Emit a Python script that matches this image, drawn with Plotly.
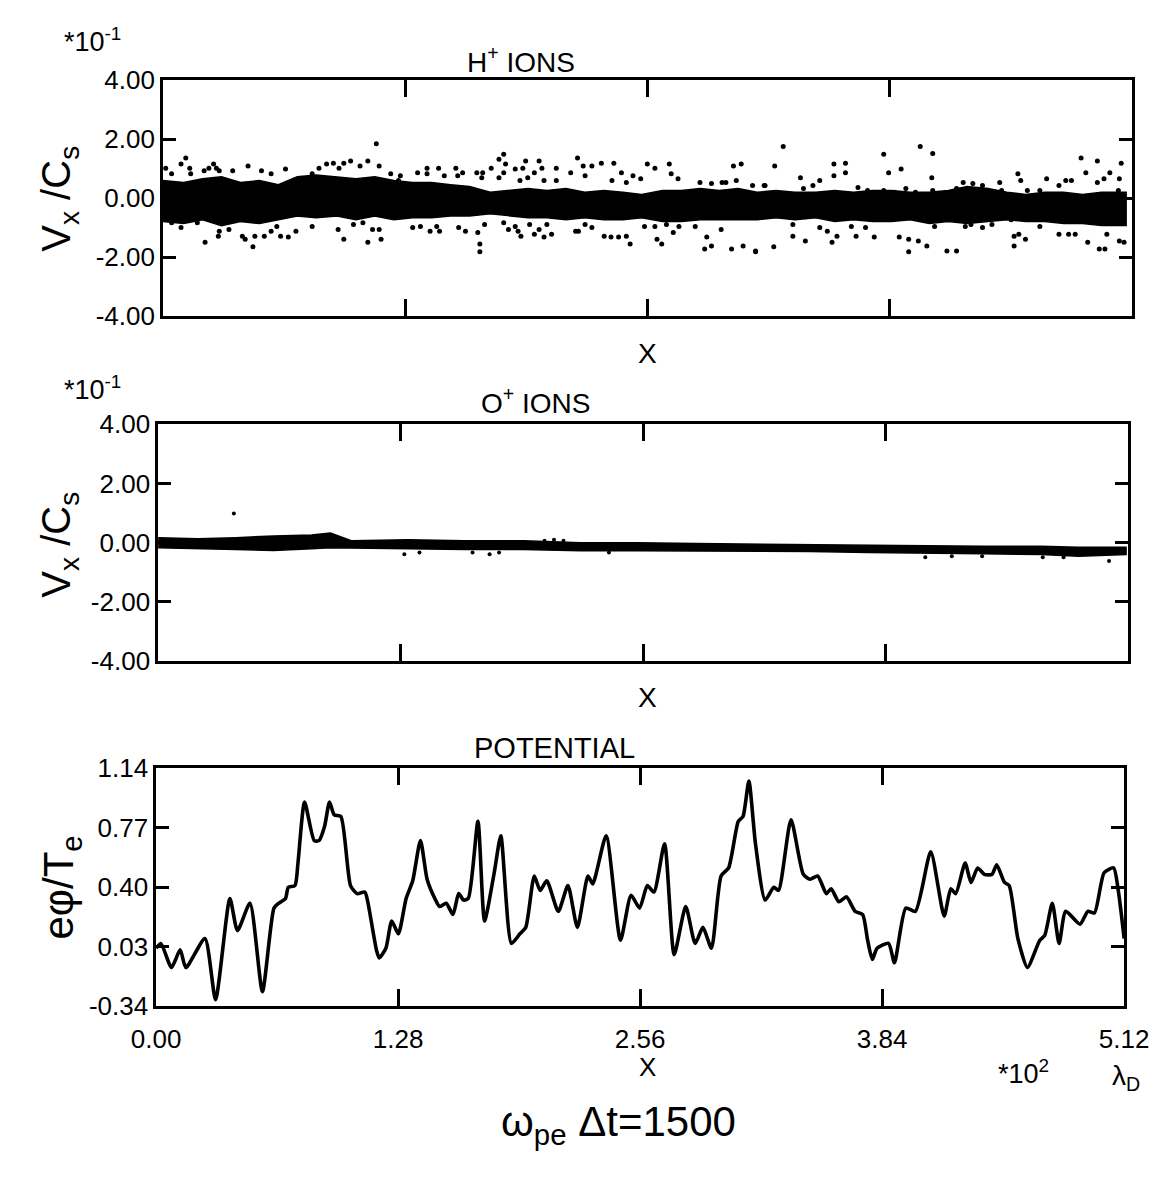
import plotly.graph_objects as go

W, H = 1175, 1178

# ---------------- data ----------------
x_tick_vals = [0.00, 1.28, 2.56, 3.84, 5.12]
x_tick_text = ["0.00", "1.28", "2.56", "3.84", "5.12"]
v_tick_vals = [-4, -2, 0, 2, 4]
v_tick_text = ["-4.00", "-2.00", "0.00", "2.00", "4.00"]
pot_tick_vals = [-0.34, 0.03, 0.40, 0.77, 1.14]
pot_tick_text = ["-0.34", "0.03", "0.40", "0.77", "1.14"]

# H+ ions: dense core band (upper / lower edge) in units of 1e-1
h_band_x = [0.00, 0.11, 0.21, 0.31, 0.41, 0.51, 0.61, 0.71, 0.81, 0.92, 1.02, 1.12, 1.22, 1.32, 1.42, 1.52, 1.62,
            1.73, 1.83, 1.93, 2.03, 2.13, 2.23, 2.33, 2.43, 2.53, 2.64, 2.74, 2.84, 2.94, 3.04, 3.14, 3.24, 3.34,
            3.45, 3.55, 3.65, 3.75, 3.85, 3.95, 4.05, 4.15, 4.25, 4.36, 4.46, 4.56, 4.66, 4.76, 4.86, 4.96, 5.09]
h_band_upper = [0.60, 0.53, 0.66, 0.73, 0.53, 0.60, 0.46, 0.73, 0.79, 0.73, 0.66, 0.73, 0.60, 0.53, 0.53, 0.46, 0.40,
                0.20, 0.26, 0.33, 0.26, 0.33, 0.20, 0.26, 0.20, 0.13, 0.26, 0.26, 0.33, 0.26, 0.33, 0.20, 0.26, 0.20,
                0.20, 0.26, 0.20, 0.26, 0.26, 0.20, 0.20, 0.26, 0.40, 0.33, 0.20, 0.13, 0.20, 0.20, 0.13, 0.20, 0.20]
h_band_lower = [-0.79, -0.86, -0.73, -0.93, -0.79, -0.86, -0.73, -0.60, -0.66, -0.60, -0.73, -0.60, -0.73, -0.66,
                -0.66, -0.60, -0.60, -0.53, -0.60, -0.66, -0.66, -0.73, -0.66, -0.73, -0.73, -0.66, -0.79, -0.79,
                -0.73, -0.73, -0.73, -0.73, -0.66, -0.73, -0.66, -0.79, -0.73, -0.79, -0.79, -0.73, -0.86, -0.79,
                -0.86, -0.79, -0.73, -0.79, -0.79, -0.86, -0.86, -0.93, -0.93]

# H+ ions: scattered particles outside the core
h_outliers = [
    (0.015, 1.02), (0.046, 0.83), (0.096, 1.16), (0.121, 1.36), (0.142, 1.02), (0.147, 0.83), (0.218, 0.93),
    (0.243, 1.02), (0.268, 1.16), (0.283, 1.02), (0.298, 0.93), (0.369, 0.93), (0.450, 1.09), (0.521, 0.93),
    (0.572, 0.83), (0.648, 0.99), (0.789, 0.83), (0.825, 1.02), (0.865, 1.16), (0.901, 1.19), (0.931, 1.02),
    (0.956, 1.19), (0.992, 1.26), (1.042, 1.09), (1.083, 1.26), (1.128, 1.85), (1.143, 1.09), (1.204, 0.83),
    (1.245, 0.60),
    (0.046, -0.83), (0.096, -0.99), (0.182, -0.83), (0.223, -1.49), (0.293, -1.29), (0.298, -1.12),
    (0.349, -1.06), (0.420, -1.29), (0.435, -1.39), (0.476, -1.65), (0.486, -1.29), (0.536, -1.29),
    (0.572, -1.12), (0.602, -0.96), (0.622, -1.29), (0.663, -1.32), (0.703, -1.12), (0.789, -0.96),
    (0.926, -1.06), (0.956, -1.39), (1.007, -0.89), (1.057, -0.83), (1.083, -1.49), (1.108, -1.06),
    (1.143, -1.06), (1.153, -1.39),
    (1.255, 0.76), (1.346, 0.86), (1.396, 1.02), (1.396, 0.83), (1.457, 1.02), (1.487, 0.76), (1.548, 1.02),
    (1.558, 0.76), (1.584, 0.86), (1.659, 0.86), (1.690, 0.86), (1.685, 0.69), (1.735, 1.02), (1.776, 1.32),
    (1.801, 1.49), (1.776, 0.69), (1.811, 1.16), (1.801, 0.86), (1.862, 0.99), (1.887, 0.60), (1.902, 1.02),
    (1.917, 1.26), (1.928, 0.69), (1.963, 0.86), (1.988, 1.26), (2.003, 1.02), (2.014, 0.60), (2.079, 1.02),
    (2.079, 0.60), (2.155, 0.86), (2.191, 1.36), (2.221, 1.09), (2.231, 0.76), (2.267, 1.09), (2.317, 1.19),
    (2.383, 1.19), (2.373, 0.60), (2.423, 0.86), (2.449, 0.53), (2.484, 0.76), (2.525, 0.66), (2.560, 1.16),
    (2.600, 1.02), (2.676, 1.16), (2.686, 0.83), (2.722, 0.66), (2.838, 0.53), (2.899, 0.50), (2.955, 0.53),
    (2.975, 0.53), (3.015, 1.09), (3.056, 1.16), (3.030, 0.60), (3.116, 0.43), (3.177, 0.43),
    (1.260, -0.63), (1.320, -0.99), (1.361, -0.96), (1.412, -1.12), (1.447, -0.96), (1.462, -1.12),
    (1.563, -0.99), (1.599, -1.12), (1.664, -1.16), (1.675, -1.55), (1.675, -1.82), (1.700, -0.89),
    (1.801, -0.83), (1.826, -1.06), (1.862, -0.96), (1.877, -1.12), (1.892, -1.29), (1.938, -0.89),
    (1.963, -1.22), (1.988, -1.06), (2.014, -1.32), (2.029, -0.89), (2.054, -1.22), (2.181, -1.12),
    (2.196, -1.12), (2.231, -0.89), (2.267, -0.99), (2.332, -1.29), (2.368, -1.32), (2.408, -1.32),
    (2.449, -1.29), (2.469, -1.55), (2.545, -0.96), (2.600, -0.96), (2.611, -1.39), (2.636, -1.55),
    (2.661, -0.89), (2.697, -1.16), (2.727, -0.96), (2.813, -0.96), (2.874, -1.32), (2.863, -1.72),
    (2.899, -1.62), (2.950, -1.06), (3.005, -1.72), (3.066, -1.62), (3.132, -1.82),
    (3.182, 0.43), (3.233, 1.09), (3.278, 1.75), (3.369, 0.69), (3.385, 0.33), (3.435, 0.43), (3.471, 0.60),
    (3.546, 1.16), (3.546, 0.76), (3.607, 1.19), (3.607, 0.86), (3.673, 0.36), (3.724, 0.26), (3.809, 1.49),
    (3.835, 0.86), (3.809, 0.26), (3.865, 0.20), (3.901, 0.99), (3.926, 0.33), (3.977, 0.20), (4.002, 1.75),
    (4.063, 0.69), (4.068, 1.52), (4.068, 0.26), (4.194, 0.33), (4.229, 0.53), (4.280, 0.50), (4.331, 0.43),
    (4.422, 0.53), (4.432, 0.26), (4.518, 0.83), (4.533, 0.60), (4.568, 0.26), (4.634, 0.26), (4.670, 0.66),
    (4.735, 0.43), (4.771, 0.60), (4.801, 0.60), (4.852, 1.36), (4.877, 0.86), (4.938, 1.26), (4.938, 0.53),
    (4.973, 0.66), (5.004, 0.86), (5.054, 0.66), (5.064, 1.19), (5.049, 0.26),
    (3.132, -1.79), (3.228, -1.65), (3.329, -0.89), (3.329, -1.29), (3.395, -1.45), (3.471, -0.99),
    (3.511, -1.12), (3.536, -1.49), (3.562, -1.29), (3.638, -0.96), (3.663, -1.29), (3.713, -0.99),
    (3.759, -1.32), (3.891, -1.32), (3.941, -1.39), (3.941, -1.82), (3.992, -1.45), (4.037, -1.62),
    (4.078, -0.96), (4.143, -1.79), (4.194, -1.79), (4.240, -0.96), (4.270, -0.89), (4.331, -0.99),
    (4.381, -0.89), (4.482, -0.73), (4.498, -1.29), (4.523, -1.22), (4.498, -1.62), (4.558, -1.39),
    (4.634, -0.96), (4.735, -1.22), (4.786, -1.22), (4.821, -1.22), (4.887, -1.49), (4.948, -1.72),
    (4.978, -1.72), (4.988, -1.22), (5.054, -1.45), (5.079, -1.49),
]

# O+ ions: thin core band
o_band_x = [0.00, 0.21, 0.41, 0.61, 0.81, 0.91, 1.02, 1.32, 1.62, 1.93, 2.23, 2.53, 2.84, 3.14, 3.44, 3.75,
            4.05, 4.35, 4.66, 4.86, 5.11]
o_band_upper = [0.17, 0.13, 0.17, 0.23, 0.26, 0.33, 0.07, 0.10, 0.07, 0.07, 0.00, 0.00, -0.03, -0.05, -0.05,
                -0.09, -0.09, -0.12, -0.12, -0.15, -0.15]
o_band_lower = [-0.17, -0.20, -0.23, -0.26, -0.20, -0.17, -0.17, -0.20, -0.23, -0.23, -0.27, -0.27, -0.28,
                -0.30, -0.30, -0.33, -0.36, -0.37, -0.40, -0.46, -0.40]
o_outliers = [(0.40, 0.99), (1.30, -0.39), (1.38, -0.33), (1.66, -0.33), (1.75, -0.39), (1.80, -0.33),
              (2.04, 0.07), (2.09, 0.10), (2.14, 0.07), (2.38, -0.33), (4.05, -0.49), (4.19, -0.46),
              (4.35, -0.46), (4.67, -0.49), (4.78, -0.49), (5.02, -0.62)]

# Potential e*phi/Te
pot_x = [0.000, 0.025, 0.081, 0.127, 0.157, 0.258, 0.314, 0.390, 0.430, 0.496, 0.562, 0.623, 0.648, 0.684,
         0.699, 0.734, 0.750, 0.785, 0.836, 0.861, 0.891, 0.917, 0.942, 0.977, 1.028, 1.063, 1.104, 1.119,
         1.165, 1.180, 1.215, 1.246, 1.281, 1.322, 1.357, 1.398, 1.433, 1.474, 1.499, 1.534, 1.570, 1.600,
         1.626, 1.651, 1.702, 1.737, 1.788, 1.823, 1.879, 1.924, 1.955, 2.000, 2.031, 2.066, 2.127, 2.178,
         2.228, 2.284, 2.309, 2.380, 2.456, 2.512, 2.557, 2.598, 2.633, 2.689, 2.740, 2.801, 2.851, 2.892,
         2.937, 2.988, 3.028, 3.079, 3.104, 3.135, 3.170, 3.221, 3.267, 3.292, 3.358, 3.423, 3.459, 3.499,
         3.545, 3.570, 3.611, 3.651, 3.697, 3.737, 3.763, 3.788, 3.813, 3.874, 3.905, 3.965, 4.016, 4.097,
         4.168, 4.203, 4.229, 4.279, 4.310, 4.345, 4.381, 4.421, 4.446, 4.487, 4.512, 4.558, 4.608, 4.674,
         4.700, 4.740, 4.776, 4.811, 4.887, 4.928, 4.963, 5.014, 5.064, 5.090, 5.120]
pot_y = [0.02, 0.05, -0.10, 0.01, -0.10, 0.08, -0.30, 0.33, 0.13, 0.30, -0.25, 0.27, 0.30, 0.33,
         0.40, 0.41, 0.55, 0.93, 0.69, 0.69, 0.78, 0.93, 0.85, 0.84, 0.41, 0.36, 0.37, 0.31,
         0.01, -0.04, 0.02, 0.19, 0.11, 0.33, 0.44, 0.69, 0.45, 0.33, 0.28, 0.30, 0.23, 0.36,
         0.32, 0.33, 0.81, 0.19, 0.49, 0.72, 0.05, 0.11, 0.15, 0.47, 0.38, 0.44, 0.25, 0.41,
         0.15, 0.47, 0.42, 0.72, 0.07, 0.35, 0.27, 0.41, 0.37, 0.67, -0.02, 0.28, 0.05, 0.15,
         0.02, 0.47, 0.52, 0.81, 0.84, 1.06, 0.67, 0.32, 0.40, 0.38, 0.82, 0.48, 0.45, 0.47,
         0.36, 0.39, 0.31, 0.34, 0.25, 0.23, 0.07, -0.05, 0.02, 0.05, -0.07, 0.27, 0.25, 0.62,
         0.22, 0.39, 0.36, 0.55, 0.43, 0.52, 0.48, 0.48, 0.54, 0.43, 0.41, 0.08, -0.10, 0.07,
         0.10, 0.30, 0.05, 0.25, 0.17, 0.25, 0.24, 0.49, 0.52, 0.37, 0.08]

# ---------------- layout geometry (pixels) ----------------
panels = {
    "top": dict(x0=144, x1=1156, y0=67, y1=309),
    "mid": dict(x0=139, x1=1152, y0=420, y1=663),
    "bot": dict(x0=137, x1=1148, y0=773, y1=1017),
}


def xd(p):
    return [p["x0"] / W, p["x1"] / W]


def yd(p):
    return [1 - p["y1"] / H, 1 - p["y0"] / H]


FONT = "Liberation Sans"
fig = go.Figure()


def band_trace(bx, up, lo, xa, ya):
    return go.Scatter(x=bx + bx[::-1], y=up + lo[::-1], fill="toself", fillcolor="black",
                      mode="lines", line=dict(color="black", width=1.5), xaxis=xa, yaxis=ya,
                      hoverinfo="skip", showlegend=False)


# H+ panel
fig.add_trace(band_trace(h_band_x, h_band_upper, h_band_lower, "x", "y"))
fig.add_trace(go.Scatter(x=[p[0] for p in h_outliers], y=[p[1] for p in h_outliers], mode="markers",
                         marker=dict(color="black", size=5), xaxis="x", yaxis="y", showlegend=False))
# O+ panel
fig.add_trace(band_trace(o_band_x, o_band_upper, o_band_lower, "x2", "y2"))
fig.add_trace(go.Scatter(x=[p[0] for p in o_outliers], y=[p[1] for p in o_outliers], mode="markers",
                         marker=dict(color="black", size=4), xaxis="x2", yaxis="y2", showlegend=False))
# Potential
fig.add_trace(go.Scatter(x=pot_x, y=pot_y, mode="lines",
                         line=dict(color="black", width=3.6, shape="spline", smoothing=0.6),
                         xaxis="x3", yaxis="y3", showlegend=False))

common_axis = dict(showline=True, linecolor="black", linewidth=2.5, mirror="ticks", ticks="inside",
                   tickcolor="black", tickwidth=2.5, showgrid=False, zeroline=False,
                   tickfont=dict(family=FONT, size=26, color="black"))

layout = dict(width=W, height=H, margin=dict(l=0, r=0, t=0, b=0), paper_bgcolor="white",
              plot_bgcolor="white", showlegend=False)

for i, key in enumerate(["top", "mid", "bot"], start=1):
    p = panels[key]
    sx = "" if i == 1 else str(i)
    xa = dict(common_axis, domain=xd(p), range=[0, 5.12], anchor="y" + sx, ticklen=17,
              tickvals=x_tick_vals, ticktext=x_tick_text if key == "bot" else [""] * 5)
    if key == "bot":
        xa["ticklabelstandoff"] = 8
    if key == "bot":
        ya = dict(common_axis, domain=yd(p), range=[-0.34, 1.14], anchor="x" + sx, ticklen=13,
                  tickvals=pot_tick_vals, ticktext=pot_tick_text, ticklabelstandoff=0)
    else:
        ya = dict(common_axis, domain=yd(p), range=[-4, 4], anchor="x" + sx, ticklen=13,
                  tickvals=v_tick_vals, ticktext=v_tick_text, ticklabelstandoff=0)
    layout["xaxis" + sx] = xa
    layout["yaxis" + sx] = ya

fig.update_layout(**layout)


def ann(text, x, y, size=24, angle=0):
    fig.add_annotation(text=text, x=x / W, y=1 - y / H, xref="paper", yref="paper", showarrow=False,
                       font=dict(family=FONT, size=size, color="black"), textangle=angle,
                       xanchor="center", yanchor="middle")


ann("*10<sup>-1</sup>", 70, 26, 27)
ann("H<sup>+</sup> IONS", 518, 46, 28)
ann("X", 650, 347, 28)
ann("V<sub>x</sub> /C<sub>s</sub>", 36, 188, 40, -90)

ann("*10<sup>-1</sup>", 70, 383, 27)
ann("O<sup>+</sup> IONS", 533, 396, 28)
ann("X", 650, 700, 28)
ann("V<sub>x</sub> /C<sub>s</sub>", 36, 543, 40, -90)

ann("POTENTIAL", 553, 752, 29)
ann("eφ/T<sub>e</sub>", 38, 895, 42, -90)
ann("X", 650, 1080, 26)
ann("*10<sup>2</sup>", 1043, 1085, 27)
ann("λ<sub>D</sub>", 1150, 1090, 28)
ann("ω<sub>pe</sub> Δt=1500", 620, 1138, 42)

fig.write_html("out.html")
